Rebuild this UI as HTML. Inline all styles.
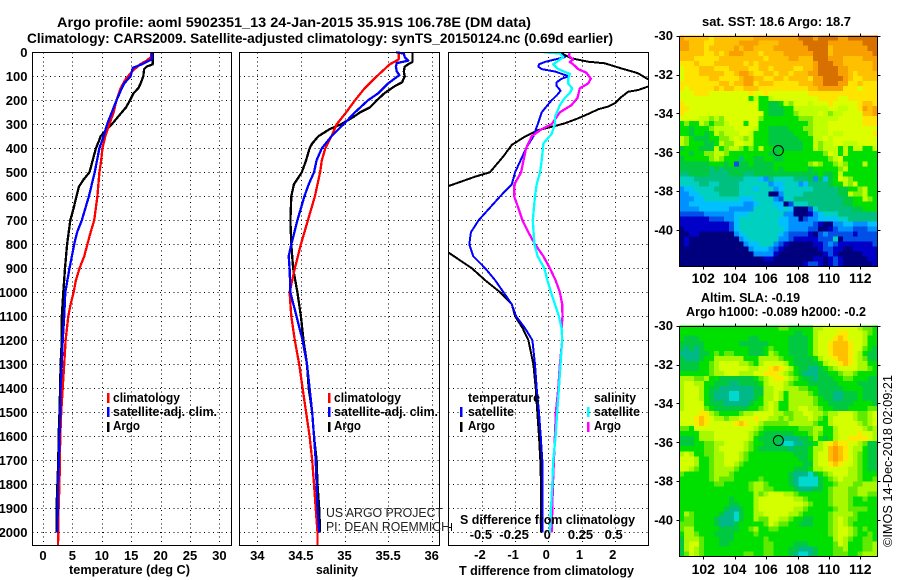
<!DOCTYPE html>
<html lang="en">
<head>
<meta charset="utf-8">
<title>Argo profile aoml 5902351_13</title>
<style>
html,body{margin:0;padding:0;background:#fff;}
svg{display:block;font-family:"Liberation Sans",sans-serif;}
</style>
</head>
<body>
<svg id="chart" xmlns="http://www.w3.org/2000/svg" width="900" height="580" viewBox="0 0 900 580">
<defs>
<clipPath id="clip-diff"><rect x="448.5" y="52.5" width="200" height="493"/></clipPath>
</defs>
</svg>
<script>
// ---------- profile data (depth in dbar) ----------
const tempClimDepth = [0,20,35,50,70,90,110,150,200,250,300,350,400,450,500,600,700,750,800,850,900,950,1000,1050,1100,1200,1300,1400,1500,1600,1700,1800,1900,2000,2055];
const tempClimValue = [18.4,18.35,17.6,16.5,15.6,14.8,14.1,13.2,12.5,12,11.3,10.6,10.1,9.9,9.6,9.25,8.7,8.1,7.55,7,6.2,5.6,5.2,4.7,4.3,3.85,3.6,3.35,3.1,2.95,2.85,2.8,2.65,2.6,2.55];
const tempSatDepth = [0,30,40,50,65,100,130,150,200,250,300,350,400,500,600,700,750,800,900,1000,1100,1200,1300,1400,1500,1600,1700,1800,1900,2000];
const tempSatValue = [18.5,18.5,17.6,16.8,15.25,14.9,13.8,13.4,12.5,11.7,10.9,10.3,9.6,8.8,7.8,6.6,5.8,5.3,4.5,3.8,3.6,3.35,3.2,3,2.95,2.8,2.7,2.55,2.5,2.45];
const tempArgoDepth = [0,50,60,70,100,130,150,170,200,230,250,300,330,350,370,400,450,500,530,560,600,650,700,800,900,1000,1100,1200,1300,1400,1500,1600,1700,1800,1900,2000];
const tempArgoValue = [18.65,18.65,17.6,17.2,17.06,16.6,16.2,15.4,14.8,14.1,13.4,11.7,10.5,9.8,9.5,9,8.45,7.9,6.9,6.1,5.7,5.2,4.65,4.1,3.75,3.45,3.2,3.2,3,2.9,2.8,2.65,2.6,2.45,2.3,2.3];

const salClimDepth = [0,30,50,100,150,200,250,300,350,400,450,500,600,700,800,900,1000,1100,1200,1300,1400,1500,1600,1700,1800,1900,2000,2055];
const salClimValue = [35.62,35.62,35.52,35.37,35.23,35.12,35.02,34.91,34.85,34.78,34.74,34.72,34.66,34.58,34.5,34.43,34.37,34.39,34.43,34.48,34.52,34.56,34.6,34.63,34.65,34.67,34.69,34.69];
const salSatDepth = [0,5,20,35,45,60,80,95,130,170,200,250,300,350,400,450,500,550,600,700,800,850,900,1000,1100,1200,1300,1400,1500,1600,1700,1800,1900,2000];
const salSatValue = [35.59,35.68,35.69,35.73,35.6,35.59,35.6,35.63,35.5,35.39,35.27,35.12,34.99,34.85,34.74,34.68,34.65,34.59,34.54,34.46,34.39,34.36,34.37,34.38,34.45,34.52,34.57,34.6,34.63,34.65,34.67,34.68,34.69,34.71];
const salArgoDepth = [0,40,50,60,80,100,125,140,170,200,230,250,270,300,320,350,380,400,450,500,550,600,700,800,900,1000,1100,1200,1300,1400,1500,1600,1700,1800,1900,2000];
const salArgoValue = [35.78,35.78,35.73,35.69,35.68,35.69,35.66,35.58,35.46,35.37,35.29,35.18,35.1,34.96,34.83,34.7,34.63,34.6,34.56,34.51,34.42,34.39,34.38,34.39,34.41,34.46,34.5,34.53,34.57,34.59,34.63,34.65,34.68,34.69,34.71,34.72];

const dTempSatDepth = [0,10,20,30,40,50,60,70,80,100,110,125,140,160,180,200,250,300,350,400,500,550,600,700,750,800,850,900,950,1000,1050,1100,1150,1200,1300,1400,1500,1600,1700,1800,1900,2000];
const dTempSatValue = [0.3,0.4,0.5,0.2,-0.1,-0.28,-0.3,-0.2,0.2,0.62,0.4,0.25,0.25,0.37,0.25,0.1,-0.2,-0.32,-0.45,-0.67,-1,-1.1,-1.45,-2.1,-2.33,-2.38,-2.26,-1.9,-1.6,-1.35,-1.1,-0.97,-0.7,-0.48,-0.4,-0.35,-0.28,-0.23,-0.18,-0.17,-0.17,-0.17];
const dTempArgoDepth = [0,15,25,39,46,67,87,112,125,143,157,164,185,212,226,237,257,275,296,307,324,351,386,435,500,518,557,600,700,800,835,900,950,1000,1050,1100,1150,1200,1300,1400,1500,1600,1700,1800,1900,2000];
const dTempArgoValue = [0.35,0.55,0.7,1.2,1.7,2.2,2.7,3,3.2,3,2.71,2.41,2.21,2.01,1.81,1.51,1.2,0.9,0.5,0.2,-0.3,-0.7,-1.1,-1.36,-1.76,-2.2,-3,-3.4,-4,-3.5,-3,-2.3,-1.9,-1.45,-1.1,-1,-0.77,-0.6,-0.45,-0.38,-0.33,-0.28,-0.24,-0.22,-0.22,-0.22];
// salinity differences, plotted on the S axis (0.25 S = 1 degC on the T axis)
const dSalSatDepth = [0,5,20,30,50,70,90,110,130,150,170,190,220,270,300,340,380,450,500,550,600,700,800,850,900,950,1000,1050,1100,1150,1200,1300,1400,1500,1600,1700,1800,1900,2000];
const dSalSatValue = [-0.037,0.087,0.112,0.087,0.037,0.075,0.162,0.15,0.15,0.18,0.162,0.125,0.087,0.05,0.05,0.025,-0.037,-0.05,-0.062,-0.087,-0.1,-0.117,-0.105,-0.08,-0.03,-0.007,0.02,0.05,0.08,0.1,0.105,0.092,0.08,0.067,0.055,0.037,0.03,0.02,0.012];
const dSalArgoDepth = [0,15,30,40,50,70,85,110,130,150,190,220,250,300,320,350,400,450,500,550,600,650,700,750,800,850,900,950,1000,1050,1100,1150,1200,1300,1400,1500,1600,1700,1800,1900,2000];
const dSalArgoValue = [0.162,0.155,0.187,0.162,0.187,0.225,0.287,0.32,0.3,0.237,0.22,0.175,0.087,0.025,-0.05,-0.125,-0.167,-0.187,-0.205,-0.255,-0.257,-0.225,-0.195,-0.15,-0.1,-0.037,0.012,0.055,0.087,0.105,0.107,0.1,0.105,0.087,0.075,0.057,0.05,0.042,0.035,0.03,0.025];

// ---------- tick labels ----------
const depthTicks = [0,100,200,300,400,500,600,700,800,900,1000,1100,1200,1300,1400,1500,1600,1700,1800,1900,2000];
const tempTicks = [0,5,10,15,20,25,30];
const salTicks = ["34","34.5","35","35.5","36"];
const dTempTicks = [-2,-1,0,1,2];
const dSalTicks = ["-0.5","-0.25","0","0.25","0.5"];
const lonTicks = [102,104,106,108,110,112];
const latTicks = [-30,-32,-34,-36,-38,-40];

// ---------- profile location ----------
const profileLon = 106.78;
const profileLat = -35.91;

// ---------- colour scales: level 0..15 ----------
const sstColours = ["#00007f","#0000c8","#0050e8","#0090ff","#00c0ff","#00d0c0","#00c080","#00c840","#00e000","#80f000","#c0ff00","#dcff00","#ffe400","#ffc000","#f8a000","#d87000"];
const slaColours = ["#00007f","#0000c8","#0050e8","#0090ff","#00c0ff","#00d8d0","#00b888","#00c840","#00e000","#60ea00","#a8f800","#d4ff00","#ffe800","#ffc000","#ff9c00","#e07000"];

// ---------- map grids: 46 rows (north to south) x 40 columns ----------
const sstRows = [
"edddddcddd dddddeeeee eeeefffeff ffeeffffff",
"eedddccddd ddeeeedddd eeeeefffff eeeeeeefff",
"eedddcdddd dedeedddde eeeeeeffff deeeeeeeff",
"dddddccdcd eeedddcddd deeeeeefff deeeeeeeef",
"dddcccccdd dddddddcdd ddeedddfff eeeddddeee",
"cccdcccddd dddcdcdddd dddddddeff feedddddde",
"bcccdddccc ddddccddcd dddccddeff ffeeddddde",
"bcccdddddc cdeedccddc ddcdddeeff ffeedcdddd",
"bcccccddcc ccdeeddccd dcddddceef fffedccddd",
"ccccccccdd cddeecdddc ccccdddeef ffeeccdccc",
"cbcccccdcd dccdddcccc ccccccddee eeecccbccc",
"bbbcccbbbb bbbbcbbcbb bbbbbbcccc cccccccccc",
"bbbbbbbbbb bbbb8a88ab bbbbbbbbcc ccbbcccccc",
"cbbbbbbbbb bbbbbb8877 8a9bbbabbb cbbbbbcddc",
"ccbbbbbbbb bbbbbb8877 788aaaaaaa bbaabbcede",
"cbbbbbbbbb bbbbbbb877 7889aaaaba 9aabbbbdde",
"bbbbaa9a9b bbbbbb9888 8888999aaa aabbbbbccc",
"8988a9899a bbb8bb8888 8888889aaa bbbbbbbccc",
"8878889aaa abbbba8877 7788899aaa bbbbbbbbbb",
"8878878a9a aabba88877 7778889aaa baabbbbbbc",
"a987778899 aba9a88877 7777888aab abbbbbbbbb",
"a9888778a9 9bbaa88877 7777788a9a abbaaabbbb",
"7888777a89 aa9898a887 7777788a9a aa8a8aa88a",
"8878899aa9 8888888877 8888888889 ba8a888888",
"7888889a98 8868877887 7888888888 9ab8888888",
"7777778887 8277877778 8888889a98 89a9888a88",
"7777776767 7777777778 7888887888 889a888888",
"6677776666 7776677777 7777777787 78a8888888",
"5556666666 6665554365 5556667374 78ba988888",
"5555665566 6655555534 4555346666 788a9b8888",
"3445555666 6655545553 4555555666 6677889a88",
"3344555566 6655555500 3555566666 6677a99a88",
"3334455555 5544455553 2556666666 6667788a98",
"3344444444 4443345554 4025556666 6667788888",
"3333444444 3333355555 4540002566 6666677888",
"2222233333 3444555555 5330001345 5566666666",
"1111112223 3455555555 4433023344 4455666666",
"1111111111 2455555555 4433333210 0334433344",
"0111111111 2455555555 5433332200 1233322233",
"0011000000 0345555555 4322221023 2222212222",
"0100000000 0034555555 3321111122 2502222222",
"0100000000 0003445553 2100000112 3211111112",
"0000000000 0000344432 1000000012 2110011111",
"0000000000 0000033331 0000000001 2100000111",
"0000000000 0000000110 0000000110 1210000011",
"0000000000 0000000000 0000012210 1210000001"
];
const slaRows = [
"8888888888 8888888888 9988888aab bbbbbba998",
"8888888888 8888888888 8887788abb bbccbbba98",
"8777888888 8888778888 8877778abb bcdcbbba88",
"7777788888 8877777788 8877778abb cdddcbba88",
"7676788888 8888777898 8877778abb cdddcbb987",
"6666778989 98887778a9 8877778abb cdddcba877",
"7666788aaa aaa888aaaa 98877778ab bcddcba977",
"7777889abb bbaa98abbb ba8777778a bbcdcbaa88",
"7777889abb bbbbaabbcd cba8776678 9abbbbaa98",
"8888889aab bbaaabbccc ba98766677 889aa98888",
"aaa99a8877 7777789abc cba9877677 7889988877",
"abbaa88777 6677778abb ba98887777 7788887777",
"abbba87766 6666677aab baaa998877 7778888777",
"abbba87666 5566677aab a8aaaa9877 7667778777",
"abbba87666 5566678aab a8aaaaa987 7667778777",
"abbbb87776 6666788aba 88aaaaa988 7777788887",
"abbbb98777 7777889aba 88aabbaa98 8777888899",
"bbbbcca988 889aabbbba a99aabbaa9 aabbba99ab",
"bbbcdcbaa9 aabbbcbbaa 9a9aaaba98 abbbba99ab",
"bbbcdcbbbb bcdcbba999 99aaaaa988 abbbbba9ab",
"998bbbbbbb bbbbba9888 8888999aa8 8abbbbba9a",
"8888aaabbb bbbba98777 7778889a98 8abbbbcbba",
"7778aaabbb bbbba87777 7666778a87 8abbccccba",
"7778899aab bbba988777 65566778ab cdccbba977",
"8888899abb bbba987777 7767778aab dedcbaa877",
"aba8899aab bba9888888 8887778abb dedcba9877",
"bbba889aab bba9888888 8888778abb dedcba9877",
"bbba889aab ba98888888 8888877abb cdcbba9877",
"bba9889aaa a988888888 8887778aab bbbbaa9877",
"9888889aaa 9888888888 8876665789 abbbaa9888",
"8888889a99 9888889888 8876555578 9abaaa9889",
"8888888998 88889aa988 8876555578 89aaa99aaa",
"8888888888 88889aa998 8887666778 9aaa99aaaa",
"8888888888 88888a9abb baa9888888 9aaa99aa99",
"8888888888 78888abbbb bbbaa98888 9aaa988988",
"8888888888 77888abbbb bbbbba9888 9aaa988888",
"8888888887 66788abbbb bbbaa98888 89aa999988",
"8a98888876 65788aabbb bbaa988888 9aaaa98888",
"8998888766 65788a99bb aa98877888 9aba998888",
"9998888766 67888889ba 9988777888 9aba988888",
"9aa8888877 77889a8899 8888888888 9abba98988",
"8aa9888777 7888898888 8888888888 9abba98898",
"7aaa988877 7888888988 8888888888 8aba988998",
"7abb988877 8888888998 8887778888 89ba88899a",
"7aba988888 8888888998 8877666788 899a88899a",
"79ba988888 8889988998 8876556788 8999889aaa"
];

// ---------- axis functions ----------
const yDepth = d => 52.3 + 0.24 * d;
const xTemp = t => 43 + 5.88 * t;
const xSal = s => 257.3 + 87.2 * (s - 34);
const xDT = v => 548.3 + 33.2 * v;
const xDS = v => 548.3 + 132.8 * v;
const xLon = lon => 703.3 + 15.7 * (lon - 102);
const yLatTop = lat => 35.7 + 19.43 * (-30 - lat);
const yLatBot = lat => 325.7 + 19.43 * (-30 - lat);

const svg = document.getElementById('chart');
const NS = 'http://www.w3.org/2000/svg';

function make(tag, attrs, name, parent, interactable) {
  const el = document.createElementNS(NS, tag);
  for (const k in attrs) el.setAttribute(k, attrs[k]);
  
  
  (parent || svg).appendChild(el);
  return el;
}
function label(x, y, str, name, o) {
  o = o || {};
  const a = {x: x, y: y, 'font-size': o.size || 13, 'font-weight': o.weight || 'bold', fill: o.fill || '#000', 'text-anchor': o.anchor || 'start'};
  if (o.len) { a.textLength = o.len; a.lengthAdjust = 'spacingAndGlyphs'; }
  if (o.transform) a.transform = o.transform;
  const el = make('text', a, name);
  el.textContent = str;
  return el;
}
function rule(x1, y1, x2, y2, name, dash) {
  const a = {x1: x1, y1: y1, x2: x2, y2: y2, stroke: '#000', 'stroke-width': 1, 'shape-rendering': 'crispEdges'};
  if (dash) a['stroke-dasharray'] = dash;
  return make('line', a, name);
}
function panelFrame(x, y, w, h, name) {
  return make('rect', {x: x, y: y, width: w, height: h, fill: 'none', stroke: '#000', 'stroke-width': 1.4, 'shape-rendering': 'crispEdges'}, name);
}
function profile(xFn, depth, values, colour, name, width, clip) {
  const pts = depth.map((d, i) => xFn(values[i]).toFixed(1) + ',' + yDepth(d).toFixed(1)).join(' ');
  const a = {points: pts, fill: 'none', stroke: colour, 'stroke-width': width || 2.3, 'stroke-linejoin': 'round', 'shape-rendering': 'crispEdges'};
  if (clip) a['clip-path'] = 'url(#clip-diff)';
  return make('polyline', a, name);
}
function swatch(x, y, colour, name) {
  return make('rect', {x: x, y: y, width: 2.5, height: 10, fill: colour, 'shape-rendering': 'crispEdges'}, name);
}

// ---------- titles ----------
label(57, 27, 'Argo profile: aoml 5902351_13 24-Jan-2015 35.91S 106.78E (DM data)', 'figure-title', {size: 14, len: 474});
label(27, 43, 'Climatology: CARS2009. Satellite-adjusted climatology: synTS_20150124.nc (0.69d earlier)', 'figure-subtitle', {size: 14, len: 586});

// ---------- panel frames geometry ----------
const panels = [
  {l: 32.5, r: 231.5, n: 'temperature'},
  {l: 239.5, r: 439.5, n: 'salinity'},
  {l: 448.5, r: 648.5, n: 'difference'}
];
const plotTop = 52.5, plotBottom = 545.5;

panels.forEach(p => {
  depthTicks.forEach(d => {
    rule(p.l, Math.round(yDepth(d)) + 0.5, p.r, Math.round(yDepth(d)) + 0.5, p.n + '-grid-depth-' + d, '1 3.4');
  });
});
tempTicks.forEach(t => {
  const x = Math.round(xTemp(t)) + 0.5;
  rule(x, plotTop, x, plotBottom, 'temperature-grid-' + t, '1 3.4');
  label(xTemp(t), 560, String(t), 'temperature-tick-' + t, {anchor: 'middle'});
});
salTicks.forEach(s => {
  const x = Math.round(xSal(+s)) + 0.5;
  rule(x, plotTop, x, plotBottom, 'salinity-grid-' + s, '1 3.4');
  label(xSal(+s), 560, s, 'salinity-tick-' + s, {anchor: 'middle'});
});
dTempTicks.forEach(v => {
  const x = Math.round(xDT(v)) + 0.5;
  rule(x, plotTop, x, plotBottom, 'difference-grid-' + v, '1 3.4');
  label(xDT(v) - 2, 559, String(v), 'difference-t-tick-' + v, {anchor: 'middle'});
});
dSalTicks.forEach(s => {
  label(xDS(+s) - 1, 539, s, 'difference-s-tick-' + s, {anchor: 'middle'});
});
depthTicks.forEach(d => {
  label(27.5, yDepth(d) + 4.5, String(d), 'depth-tick-' + d, {anchor: 'end'});
});

// ---------- profiles ----------
profile(xTemp, tempArgoDepth, tempArgoValue, '#000', 'temperature-argo-line');
profile(xTemp, tempClimDepth, tempClimValue, '#f00', 'temperature-climatology-line');
profile(xTemp, tempSatDepth, tempSatValue, '#00f', 'temperature-satellite-line');

profile(xSal, salArgoDepth, salArgoValue, '#000', 'salinity-argo-line');
profile(xSal, salClimDepth, salClimValue, '#f00', 'salinity-climatology-line');
profile(xSal, salSatDepth, salSatValue, '#00f', 'salinity-satellite-line');

profile(xDT, dTempArgoDepth, dTempArgoValue, '#000', 'diff-temperature-argo-line', 2, true);
profile(xDT, dTempSatDepth, dTempSatValue, '#00f', 'diff-temperature-satellite-line', 2, true);
profile(xDS, dSalArgoDepth, dSalArgoValue, '#f0f', 'diff-salinity-argo-line', 2.3, true);
profile(xDS, dSalSatDepth, dSalSatValue, '#0ff', 'diff-salinity-satellite-line', 2.3, true);

panels.forEach(p => panelFrame(p.l, plotTop, p.r - p.l, plotBottom - plotTop, p.n + '-panel-frame'));

// small mark near the difference panel caption
rule(449, 527.5, 451, 527.5, 'difference-stub-mark');
rule(451.5, 523, 451.5, 531, 'difference-stub-cap');

// ---------- legends ----------
swatch(107, 393, '#f00', 'legend-swatch-climatology');
swatch(107, 407, '#00f', 'legend-swatch-satellite');
swatch(107, 422, '#000', 'legend-swatch-argo');
label(113, 402, 'climatology', 'legend-entry-climatology', {len: 67});
label(113, 416, 'satellite-adj. clim.', 'legend-entry-satellite', {len: 104});
label(113, 430, 'Argo', 'legend-entry-argo', {len: 27});

swatch(328, 393, '#f00', 'salinity-legend-swatch-climatology');
swatch(328, 407, '#00f', 'salinity-legend-swatch-satellite');
swatch(328, 422, '#000', 'salinity-legend-swatch-argo');
label(334, 402, 'climatology', 'salinity-legend-entry-climatology', {len: 67});
label(334, 416, 'satellite-adj. clim.', 'salinity-legend-entry-satellite', {len: 104});
label(334, 430, 'Argo', 'salinity-legend-entry-argo', {len: 27});

label(468, 402, 'temperature', 'difference-legend-temperature-heading', {len: 72});
swatch(460, 407, '#00f', 'difference-legend-swatch-t-satellite');
swatch(460, 422, '#000', 'difference-legend-swatch-t-argo');
label(468, 416, 'satellite', 'difference-legend-t-satellite', {len: 46});
label(468, 430, 'Argo', 'difference-legend-t-argo', {len: 27});

label(594, 402, 'salinity', 'difference-legend-salinity-heading', {len: 42});
swatch(587, 407, '#0ff', 'difference-legend-swatch-s-satellite');
swatch(587, 422, '#f0f', 'difference-legend-swatch-s-argo');
label(594, 416, 'satellite', 'difference-legend-s-satellite', {len: 46});
label(594, 430, 'Argo', 'difference-legend-s-argo', {len: 27});

// ---------- annotations and axis titles ----------
label(326, 517, 'US ARGO PROJECT', 'project-credit', {weight: 'normal', len: 117, fill: '#222'});
label(326, 531, 'PI: DEAN ROEMMICH', 'principal-investigator-credit', {weight: 'normal', len: 124, fill: '#222'});
label(460, 524, 'S difference from climatology', 'difference-s-axis-title', {len: 175});
label(69, 574, 'temperature (deg C)', 'temperature-axis-title', {len: 121});
label(316, 574, 'salinity', 'salinity-axis-title', {len: 42});
label(459, 575, 'T difference from climatology', 'difference-t-axis-title', {len: 175});

// ---------- maps ----------
const mapLonStart = 100.47;
const mapLatStart = -30;
const mapColumns = 40;
const mapLonStep = 12.63 / 40;
const mapLatStep = 11.89 / 46;

function drawMap(rows, colours, yLat, name) {
  rows.forEach((raw, r) => {
    const row = raw.replace(/ /g, '');
    for (let c = 0; c < mapColumns; c++) {
      const level = parseInt(row[c] !== undefined ? row[c] : row[row.length - 1], 16);
      const x0 = xLon(mapLonStart + c * mapLonStep);
      const x1 = xLon(mapLonStart + (c + 1) * mapLonStep);
      const y0 = yLat(mapLatStart - r * mapLatStep);
      const y1 = yLat(mapLatStart - (r + 1) * mapLatStep);
      const cell = document.createElementNS(NS, 'rect');
      cell.setAttribute('x', x0.toFixed(2));
      cell.setAttribute('y', y0.toFixed(2));
      cell.setAttribute('width', (x1 - x0 + 0.4).toFixed(2));
      cell.setAttribute('height', (y1 - y0 + 0.4).toFixed(2));
      cell.setAttribute('fill', colours[level]);
      cell.setAttribute('shape-rendering', 'crispEdges');
      
      
      svg.appendChild(cell);
    }
  });
}
function mapAxes(yLat, name, bottomY, labelY) {
  const l = 679.5, r = 877.5, t = Math.round(yLat(-30)) + 0.5;
  panelFrame(l, t, r - l, bottomY - t, name + '-frame');
  lonTicks.forEach(lon => {
    const x = Math.round(xLon(lon)) + 0.5;
    rule(x, t - 3, x, t, name + '-top-tick-' + lon);
    rule(x, bottomY, x, bottomY + 3, name + '-bottom-tick-' + lon);
    label(xLon(lon), labelY, String(lon), name + '-lon-label-' + lon, {anchor: 'middle', size: 14});
  });
  latTicks.forEach(lat => {
    const y = Math.round(yLat(lat)) + 0.5;
    rule(l - 3, y, l, y, name + '-left-tick-' + lat);
    rule(r, y, r + 3, y, name + '-right-tick-' + lat);
    label(673, yLat(lat) + 4.5, String(lat), name + '-lat-label-' + lat, {anchor: 'end'});
  });
  make('circle', {cx: xLon(profileLon), cy: yLat(profileLat), r: 5, fill: 'none', stroke: '#000', 'stroke-width': 1}, name + '-profile-marker');
}

label(702, 26, 'sat. SST: 18.6 Argo: 18.7', 'sst-map-title', {len: 149});
drawMap(sstRows, sstColours, yLatTop, 'sst-map');
mapAxes(yLatTop, 'sst-map', 266.5, 283);

label(701, 302, 'Altim. SLA: -0.19', 'sla-map-title', {len: 99});
label(686, 316, 'Argo h1000: -0.089 h2000: -0.2', 'sla-map-subtitle', {len: 180});
drawMap(slaRows, slaColours, yLatBot, 'sla-map');
mapAxes(yLatBot, 'sla-map', 556.5, 574);

label(0, 0, '\u00A9IMOS 14-Dec-2018 02:09:21', 'timestamp-credit', {weight: 'normal', len: 172, transform: 'translate(892,547) rotate(-90)'});
</script>
</body>
</html>
